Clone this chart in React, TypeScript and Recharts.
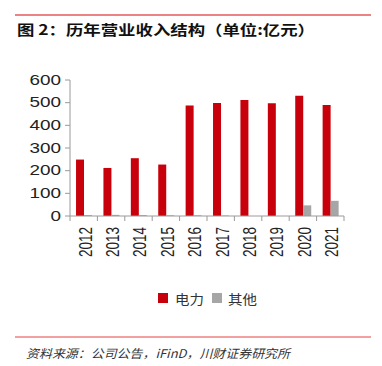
import { BarChart, Bar, XAxis, YAxis } from "recharts";

const years = ["2012", "2013", "2014", "2015", "2016", "2017", "2018", "2019", "2020", "2021"];
const power = [249, 212, 255, 227, 487, 498, 512, 497, 530, 490];
const other = [4, 5, 4, 3, 3, 2, 0, 0, 47, 67];
const yTicks = [0, 100, 200, 300, 400, 500, 600];

const series = [
  { key: "power", name: "电力", color: "#C8000B" },
  { key: "other", name: "其他", color: "#A6A6A6" },
];

const data = years.map((year, i) => ({ year, power: power[i], other: other[i] }));

const W = 382;
const H = 366;
const PLOT_LEFT = 70;
const PLOT_RIGHT = 344;
const BAND = (PLOT_RIGHT - PLOT_LEFT) / years.length;
const AXIS_COLOR = "#9a9a9a";
const TEXT_COLOR = "#222";

function YTick(props: any) {
  const { x, y, payload } = props;
  return (
    <text
      transform={`translate(${x},${y}) scale(1.35,1)`}
      textAnchor="end"
      dominantBaseline="central"
      fontSize={14}
      fontFamily="Liberation Sans, Arial, sans-serif"
      fill={TEXT_COLOR}
    >
      {payload.value}
    </text>
  );
}

function XTick(props: any) {
  const { x, y, payload, index } = props;
  const left = x - BAND / 2;
  const right = x + BAND / 2;
  return (
    <g>
      <line x1={left} x2={left} y1={y} y2={y + 5} stroke={AXIS_COLOR} />
      {index === years.length - 1 && (
        <line x1={right} x2={right} y1={y} y2={y + 5} stroke={AXIS_COLOR} />
      )}
      <text
        transform={`translate(${x + 1},${y + 11}) scale(1.37,1) rotate(-90)`}
        textAnchor="end"
        dominantBaseline="central"
        fontSize={13.5}
        fontFamily="Liberation Sans, Arial, sans-serif"
        fill={TEXT_COLOR}
      >
        {payload.value}
      </text>
    </g>
  );
}

export default function App() {
  return (
    <div
      style={{
        position: "absolute",
        left: 0,
        top: 0,
        width: W,
        height: H,
        background: "#fff",
        overflow: "hidden",
      }}
    >
      <div style={{ position: "absolute", left: 0, top: 0 }}>
        <BarChart
          width={W}
          height={270}
          data={data}
          margin={{ top: 80, right: W - PLOT_RIGHT, bottom: 0, left: 0 }}
          barCategoryGap="22%"
          barGap={0}
        >
          <XAxis
            dataKey="year"
            height={54}
            interval={0}
            tickLine={false}
            tickSize={0}
            tickMargin={0}
            axisLine={{ stroke: AXIS_COLOR }}
            tick={<XTick />}
          />
          <YAxis
            width={PLOT_LEFT}
            domain={[0, 600]}
            ticks={yTicks}
            interval={0}
            tickSize={5}
            tickMargin={4}
            axisLine={{ stroke: AXIS_COLOR }}
            tickLine={{ stroke: AXIS_COLOR }}
            tick={<YTick />}
          />
          {series.map((s) => (
            <Bar key={s.key} dataKey={s.key} name={s.name} fill={s.color} isAnimationActive={false} />
          ))}
        </BarChart>
      </div>
      <svg
        width={W}
        height={H}
        style={{ position: "absolute", left: 0, top: 0, pointerEvents: "none" }}
      >
        <line x1={15} x2={371} y1={15} y2={15} stroke="#E35A5A" strokeWidth={1.5} />
        <text
          x={17}
          y={29}
          dominantBaseline="central"
          fontSize={14}
          fontWeight="bold"
          fontFamily="Noto Sans CJK SC, sans-serif"
          fill="#111"
          textLength={298}
          lengthAdjust="spacingAndGlyphs"
        >
          图 2：历年营业收入结构（单位:亿元）
        </text>
        {series.map((s, i) => (
          <g key={s.key}>
            <rect x={158 + i * 54} y={293} width={10} height={10} fill={s.color} />
            <text
              x={175 + i * 53}
              y={298}
              dominantBaseline="central"
              fontSize={13}
              fontFamily="Noto Sans CJK SC, sans-serif"
              fill="#333"
              textLength={29}
              lengthAdjust="spacingAndGlyphs"
            >
              {s.name}
            </text>
          </g>
        ))}
        <line x1={15} x2={371} y1={337} y2={337} stroke="#EE8080" strokeWidth={1.5} />
        <text
          x={26}
          y={352}
          dominantBaseline="central"
          fontSize={12}
          fontStyle="italic"
          fontFamily="Noto Sans CJK SC, sans-serif"
          fill="#333"
          textLength={264}
          lengthAdjust="spacingAndGlyphs"
        >
          资料来源：公司公告，iFinD，川财证券研究所
        </text>
      </svg>
    </div>
  );
}
